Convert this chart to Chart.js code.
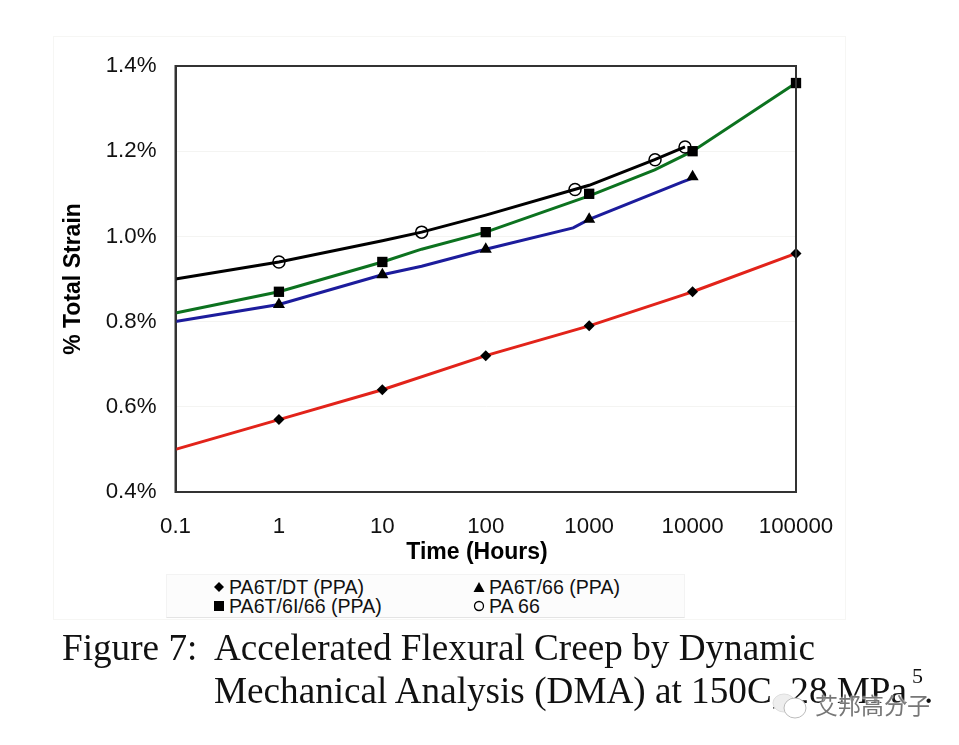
<!DOCTYPE html>
<html><head><meta charset="utf-8">
<script src="https://cdn.jsdelivr.net/npm/chart.js@4"></script>
<style>
html,body{margin:0;padding:0;background:#fff;}
#wrap{position:relative;width:959px;height:745px;overflow:hidden;}
#panel{position:absolute;left:53px;top:36px;width:791px;height:582px;border:1px solid #f6f6f4;box-sizing:content-box;}
canvas{position:absolute;left:0;top:0;}
#xt{position:absolute;left:327px;width:300px;top:537px;text-align:center;font:bold 23px/28px "Liberation Sans",sans-serif;color:#000;}
#legend{position:absolute;left:166px;top:574px;width:519px;height:44px;background:#fcfcfc;border:1px solid #f3f3f3;border-bottom:1px solid #e4e4e4;box-sizing:border-box;font:19.6px "Liberation Sans",sans-serif;color:#111;}
.li{position:absolute;white-space:nowrap;line-height:20px;}
.li svg{position:absolute;left:-16px;top:4px;}
.cap{position:absolute;font-family:"Liberation Serif",serif;font-size:37.2px;color:#111;white-space:nowrap;line-height:40px;}
.cap sup{font-size:22px;position:absolute;top:-7px;line-height:24px;}
#wm{position:absolute;left:815px;top:690px;font:23px "Noto Sans CJK SC",sans-serif;color:#777;white-space:nowrap;line-height:28px;text-shadow:0 0 2px #fff,0 0 2px #fff;}
#wmi{position:absolute;left:770px;top:690px;}
</style></head><body>
<div id="wrap">
<div id="panel"></div>
<canvas id="c" width="959" height="745"></canvas>
<div id="xt">Time (Hours)</div>
<div id="legend"></div>
<div class="cap" style="left:62px;top:628px;">Figure 7:</div>
<div class="cap" style="left:214px;top:628px;">Accelerated Flexural Creep by Dynamic</div>
<div class="cap" style="left:214px;top:671px;">Mechanical Analysis (DMA) at 150C, 28 MPa<sup style="left:698px">5</sup><span style="position:absolute;left:710px">.</span></div>
<svg id="wmi" width="42" height="32"><ellipse cx="14" cy="13" rx="11" ry="9" fill="#eee" stroke="#ddd" stroke-width="1"/><ellipse cx="25" cy="18" rx="11" ry="10" fill="#fff" stroke="#bbb" stroke-width="1"/></svg>
<div id="wm">艾邦高分子</div>
</div>
<script>
const xTicks=[0.1,1,10,100,1000,10000,100000];
const yTicks=[0.4,0.6,0.8,1.0,1.2,1.4];
const names=['PA6T/DT (PPA)','PA6T/66 (PPA)','PA6T/6I/66 (PPA)','PA 66'];

const redLineX=[0.1,1,10,100,1000,8000,10000,100000];
const redLineY=[0.50,0.57,0.64,0.72,0.79,0.862,0.87,0.96];
const blueLineX=[0.1,1,10,24,100,700,1000,8000,10000];
const blueLineY=[0.80,0.84,0.91,0.93,0.97,1.02,1.04,1.128,1.137];
const greenLineX=[0.1,1,10,24,100,1000,4300,10000,100000];
const greenLineY=[0.82,0.87,0.94,0.97,1.01,1.095,1.156,1.20,1.36];
const blackLineX=[0.1,1,10,24,100,1000,4300,8450];
const blackLineY=[0.90,0.94,0.99,1.01,1.05,1.12,1.18,1.21];

const diamondX=[1,10,100,1000,10000,100000];
const diamondY=[0.57,0.64,0.72,0.79,0.87,0.96];
const triangleX=[1,10,100,1000,10000];
const triangleY=[0.84,0.91,0.97,1.04,1.14];
const squareX=[1,10,100,1000,10000,100000];
const squareY=[0.87,0.94,1.01,1.10,1.20,1.36];
const circleX=[1,24,730,4335,8450];
const circleY=[0.94,1.01,1.11,1.18,1.21];

const zip=(a,b)=>a.map((x,i)=>({x,y:b[i]}));
const line=(label,xs,ys,color)=>({label,data:zip(xs,ys),showLine:true,borderColor:color,borderWidth:3,pointRadius:0,tension:0,fill:false,order:2,clip:false});
const mark=(label,xs,ys,style,r,fillC,bw)=>({label,data:zip(xs,ys),showLine:false,clip:false,pointStyle:style,pointRadius:r,pointHoverRadius:r,pointBackgroundColor:fillC,pointBorderColor:'#000',pointBorderWidth:bw,order:1});

new Chart(document.getElementById('c'),{
 type:'scatter',
 data:{datasets:[
  line(names[0]+' fit',redLineX,redLineY,'#e2231a'),
  line(names[1]+' fit',blueLineX,blueLineY,'#1c1c9c'),
  line(names[2]+' fit',greenLineX,greenLineY,'#0c721f'),
  line(names[3]+' fit',blackLineX,blackLineY,'#000'),
  mark(names[0],diamondX,diamondY,'rectRot',5.5,'#000',0),
  mark(names[1],triangleX,triangleY,'triangle',7,'#000',0),
  mark(names[2],squareX,squareY,'rect',7.3,'#000',0),
  mark(names[3],circleX,circleY,'circle',6,'rgba(0,0,0,0)',1.5)
 ]},
 options:{
  responsive:false,animation:false,
  layout:{padding:{top:66,right:163,left:0,bottom:0}},
  plugins:{legend:{display:false},tooltip:{enabled:false}},
  scales:{
   x:{type:'logarithmic',min:0.1,max:100000,
    afterBuildTicks:s=>{s.ticks=xTicks.map(v=>({value:v}));},
    afterFit:s=>{s.height=253;},
    grid:{display:false},
    border:{color:'#333',width:2},
    ticks:{autoSkip:false,maxRotation:0,color:'#111',padding:13,font:{family:'Liberation Sans',size:22.3},callback:v=>String(v)},
   },
   y:{type:'linear',min:0.4,max:1.4,
    afterBuildTicks:s=>{s.ticks=yTicks.map(v=>({value:v}));},
    afterFit:s=>{s.width=175.5;},
    grid:{color:'#f4f4f2',lineWidth:1,drawTicks:false},
    border:{color:'#333',width:2},
    ticks:{color:'#111',padding:19,font:{family:'Liberation Sans',size:22.3},callback:v=>v.toFixed(1)+'%'},
    title:{display:true,text:'% Total Strain',color:'#000',padding:{top:60},font:{family:'Liberation Sans',size:23,weight:'bold'}}
   }
  }
 },
 plugins:[{id:'frame',afterDraw(ch){const a=ch.chartArea,c=ch.ctx;c.save();c.strokeStyle='#333';c.lineWidth=2;c.strokeRect(a.left,a.top,a.right-a.left,a.bottom-a.top);c.restore();}}]
});

const legendPos=[[62,2],[322,2],[62,21],[322,21]];
const glyphs=[
 '<polygon points="6,1 11,6 6,11 1,6" fill="#000"/>',
 '<polygon points="6,1 11.5,11 0.5,11" fill="#000"/>',
 '<rect x="1" y="1" width="10" height="10" fill="#000"/>',
 '<circle cx="6" cy="6" r="4.5" fill="none" stroke="#000" stroke-width="1.3"/>'
];
const lg=document.getElementById('legend');
names.forEach((n,i)=>{
 const d=document.createElement('div');d.className='li';
 d.style.left=legendPos[i][0]+'px';d.style.top=legendPos[i][1]+'px';
 d.innerHTML='<svg width="12" height="12">'+glyphs[i]+'</svg>'+n;
 lg.appendChild(d);
});
</script>
</body></html>
